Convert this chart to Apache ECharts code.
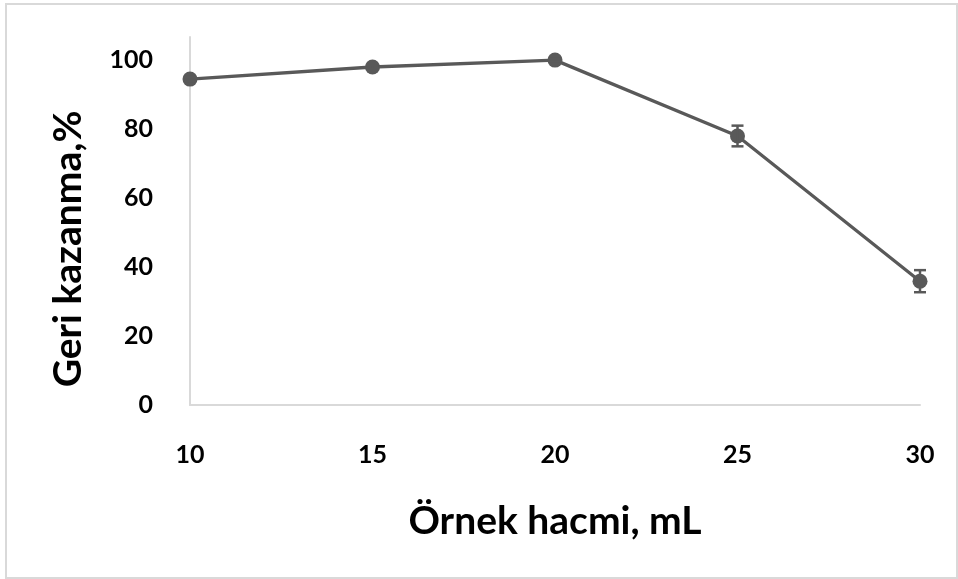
<!DOCTYPE html>
<html>
<head>
<meta charset="utf-8">
<script src="https://cdn.jsdelivr.net/npm/echarts@6/dist/echarts.min.js"></script>
<style>html,body{margin:0;padding:0;background:#fff}#c{width:958px;height:579px}</style>
</head>
<body>
<div id="c"></div>
<script>
const xValues = [10, 15, 20, 25, 30];
const recovery = [94.5, 98.0, 100.0, 78.0, 35.9];
const errors = [0.6, 0.5, 0.4, 3.0, 3.2];
const yTicks = [0, 20, 40, 60, 80, 100];
const xTicks = [10, 15, 20, 25, 30];

const FONT = 'Lato, "Open Sans", sans-serif';
const lineData = xValues.map((x, i) => [x, recovery[i]]);
const errData = xValues.map((x, i) => [x, recovery[i] - errors[i], recovery[i] + errors[i]]);

const chart = echarts.init(document.getElementById('c'));
chart.setOption({
  animation: false,
  backgroundColor: '#fff',
  grid: { left: 190, right: 38, top: 37, bottom: 174, containLabel: false },
  graphic: [{
    type: 'rect', shape: { x: 6, y: 4, width: 951, height: 574 },
    style: { fill: 'none', stroke: '#d9d9d9', lineWidth: 2 }, silent: true, z: -1
  }],
  xAxis: {
    type: 'value', min: 10, max: 30, interval: 5,
    name: 'Örnek hacmi, mL', nameLocation: 'middle', nameGap: 97,
    nameTextStyle: { fontFamily: FONT, fontWeight: 'bold', fontSize: 39, color: '#000' },
    axisLine: { show: true, lineStyle: { color: '#d9d9d9', width: 2 } },
    axisTick: { show: false }, splitLine: { show: false },
    axisLabel: {
      margin: 37, fontFamily: FONT, fontWeight: 'bold', fontSize: 25, color: '#000',
      formatter: v => xTicks.includes(v) ? String(v) : ''
    }
  },
  yAxis: {
    type: 'value', min: 0, max: 106.7, interval: 20,
    name: 'Geri kazanma,%', nameLocation: 'middle', nameGap: 102, nameRotate: 90,
    nameTextStyle: { fontFamily: FONT, fontWeight: 'bold', fontSize: 39, color: '#000', padding: [0, 56, 0, 0] },
    axisLine: { show: true, lineStyle: { color: '#d9d9d9', width: 2 } },
    axisTick: { show: false }, splitLine: { show: false },
    axisLabel: {
      margin: 37, fontFamily: FONT, fontWeight: 'bold', fontSize: 25, color: '#000',
      formatter: v => yTicks.includes(v) ? String(v) : ''
    }
  },
  series: [
    {
      type: 'line', data: lineData, symbol: 'circle', symbolSize: 15,
      lineStyle: { color: '#595959', width: 3.3 },
      itemStyle: { color: '#595959' }, z: 3
    },
    {
      type: 'custom', data: errData, z: 4,
      renderItem: function (params, api) {
        const x = api.value(0);
        const lo = api.coord([x, api.value(1)]);
        const hi = api.coord([x, api.value(2)]);
        const hw = 6;
        const st = { stroke: '#595959', lineWidth: 2.5 };
        return {
          type: 'group',
          children: [
            { type: 'line', shape: { x1: lo[0], y1: lo[1], x2: hi[0], y2: hi[1] }, style: st },
            { type: 'line', shape: { x1: lo[0] - hw, y1: lo[1], x2: lo[0] + hw, y2: lo[1] }, style: st },
            { type: 'line', shape: { x1: hi[0] - hw, y1: hi[1], x2: hi[0] + hw, y2: hi[1] }, style: st }
          ]
        };
      },
      encode: { x: 0, y: [1, 2] }
    }
  ]
});
</script>
</body>
</html>
